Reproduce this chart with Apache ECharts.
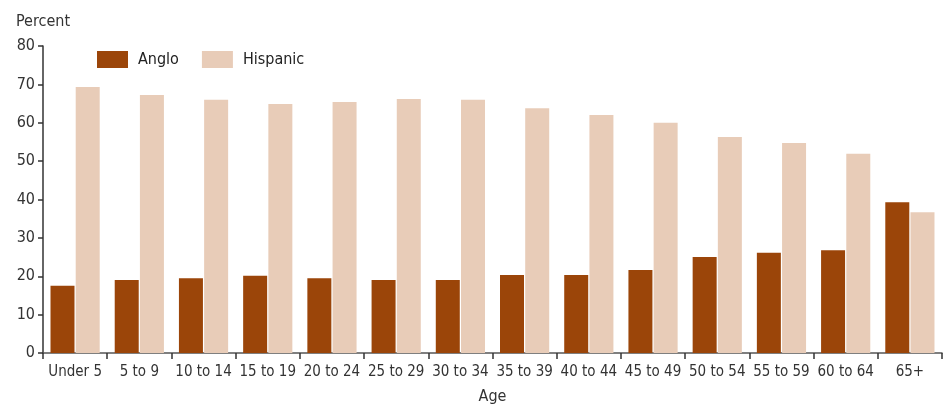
<!DOCTYPE html>
<html><head><meta charset="utf-8">
<script src="https://cdn.jsdelivr.net/npm/echarts@6/dist/echarts.min.js"></script>
<style>html,body{margin:0;padding:0;background:#fff}#c{width:952px;height:404px}</style>
</head><body><div id="c"></div>
<script>
const categories = ["Under 5","5 to 9","10 to 14","15 to 19","20 to 24","25 to 29","30 to 34","35 to 39","40 to 44","45 to 49","50 to 54","55 to 59","60 to 64","65+"];
const anglo = [17.5,19.0,19.5,20.1,19.5,19.0,19.0,20.3,20.3,21.6,25.0,26.1,26.8,39.3];
const hispanic = [69.3,67.2,66.0,64.9,65.4,66.2,66.0,63.8,62.0,60.0,56.3,54.7,51.9,36.7];
const yTicks = [0,10,20,30,40,50,60,70,80];
const FONT = '"Liberation Sans Narrow","DejaVu Sans Condensed","Roboto",sans-serif';
const chart = echarts.init(document.getElementById('c'));
chart.setOption({
  animation:false,
  textStyle:{fontFamily:FONT},
  title:{text:'Percent',left:11,top:9,textStyle:{fontFamily:FONT,fontSize:16,fontWeight:'normal',color:'#333'}},
  legend:{left:92,top:46,itemWidth:31,itemHeight:17,itemGap:23,icon:'rect',
    textStyle:{fontFamily:FONT,fontSize:16,color:'#222',padding:[0,0,0,5]},
    data:['Anglo','Hispanic']},
  grid:{left:43,right:10,top:46,bottom:51,outerBoundsMode:'none',containLabel:false},
  xAxis:{type:'category',data:categories,name:'Age',nameLocation:'middle',nameGap:36,
    nameTextStyle:{fontFamily:FONT,fontSize:16,color:'#333'},
    axisLine:{lineStyle:{color:'#555',width:1.5}},
    axisTick:{show:true,length:6,lineStyle:{color:'#333',width:1.5}},
    axisLabel:{fontFamily:FONT,fontSize:15,color:'#333',margin:12,interval:0}},
  yAxis:{type:'value',min:yTicks[0],max:yTicks[yTicks.length-1],interval:10,
    splitLine:{show:false},
    axisLine:{show:true,lineStyle:{color:'#333',width:1.5}},
    axisTick:{show:true,length:5,lineStyle:{color:'#333',width:1.5}},
    axisLabel:{fontFamily:FONT,fontSize:16,color:'#333',margin:8}},
  series:[
    {name:'Anglo',type:'bar',data:anglo,barWidth:24,barGap:'5%',itemStyle:{color:'#9B4509'}},
    {name:'Hispanic',type:'bar',data:hispanic,barWidth:24,barGap:'5%',itemStyle:{color:'#E8CCB8'}}
  ]
});
</script></body></html>
